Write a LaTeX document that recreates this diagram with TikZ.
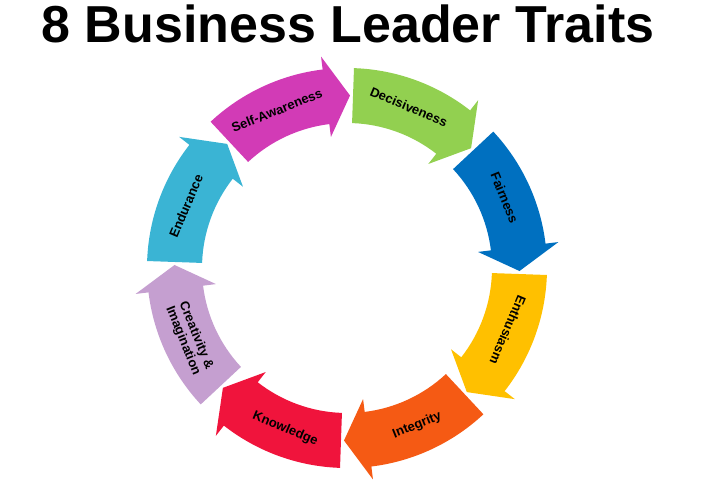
\documentclass[tikz,border=0pt]{standalone}
\usepackage{fontspec}
\setmainfont{Liberation Sans}
\usetikzlibrary{calc}

\definecolor{selfc}{HTML}{D23BB6}
\definecolor{decic}{HTML}{92D050}
\definecolor{fairc}{HTML}{0070C0}
\definecolor{enthc}{HTML}{FFC000}
\definecolor{integc}{HTML}{F55A14}
\definecolor{knowc}{HTML}{F0143C}
\definecolor{creac}{HTML}{C59FD0}
\definecolor{endc}{HTML}{3AB4D4}

\tikzset{trait/.style={font=\bfseries\fontsize{13}{14}\selectfont, align=center}}

% #1 centre angle, #2 colour, #3 name, #4 text, #5 text rotation
\newcommand{\traitseg}[5]{%
  \fill[#2] ($(m)+(#1+21:200)$) arc (#1+21:#1-15:200)
    -- ($(m)+(#1-15:213)$) -- ($(m)+(#1-23:172.5)$) -- ($(m)+(#1-15:132)$)
    -- ($(m)+(#1-15:145)$) arc (#1-15:#1+21:145) -- cycle;
  \node[trait, rotate=#5] (#3) at ($(m)+(#1+2:172.5)$) {#4};
}

\begin{document}
\begin{tikzpicture}[x=1pt,y=1pt]
\useasboundingbox (0,-480) rectangle (708,0);
\coordinate (m) at (347,-268);
\node[font=\bfseries\fontsize{52}{54}\selectfont] (title) at (348,-24) {8 Business Leader Traits};
\traitseg{112}{selfc}{self}{Self-Awareness}{22}
\traitseg{67}{decic}{deci}{Decisiveness}{-23}
\traitseg{22}{fairc}{fair}{Fairness}{-68}
\traitseg{-23}{enthc}{enth}{Enthusiasm}{-113}
\traitseg{-68}{integc}{integ}{Integrity}{22}
\traitseg{-113}{knowc}{know}{Knowledge}{-23}
\traitseg{-158}{creac}{crea}{Creativity \&\\Imagination}{-68}
\traitseg{157}{endc}{endu}{Endurance}{67}
\end{tikzpicture}
\end{document}
